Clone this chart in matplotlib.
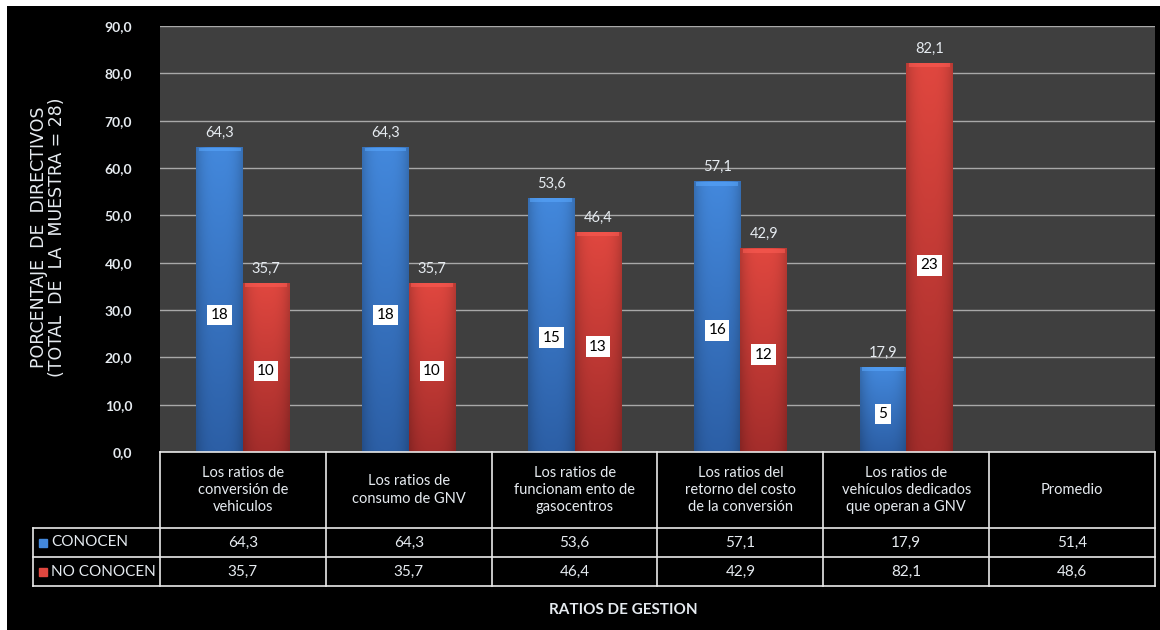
import numpy as np
import matplotlib
matplotlib.use("Agg")
import matplotlib.pyplot as plt
from matplotlib.patches import Rectangle
from matplotlib.colors import to_rgb

categorias = [
    "Los ratios de\nconversión de\nvehiculos",
    "Los ratios de\nconsumo de GNV",
    "Los ratios de\nfuncionam ento de\ngasocentros",
    "Los ratios del\nretorno del costo\nde la conversión",
    "Los ratios de\nvehículos dedicados\nque operan a GNV",
    "Promedio",
]
conocen = [64.3, 64.3, 53.6, 57.1, 17.9, 51.4]
no_conocen = [35.7, 35.7, 46.4, 42.9, 82.1, 48.6]
n_conocen = [18, 18, 15, 16, 5]
n_no_conocen = [10, 10, 13, 12, 23]
series = ["CONOCEN", "NO CONOCEN"]
yticks = [0, 10, 20, 30, 40, 50, 60, 70, 80, 90]

AZUL_TOP, AZUL_BOT = "#4388dc", "#2c5fa6"
ROJO_TOP, ROJO_BOT = "#e0473f", "#a42d2b"
TXT = "#e6ebf0"

plt.rcParams["font.family"] = ["Lato", "DejaVu Sans"]

fig = plt.figure(figsize=(11.6, 6.3), dpi=100, facecolor="black")
# margen blanco arriba e izquierda
fig.patches.append(Rectangle((0, 1 - 6 / 630), 1, 6 / 630, transform=fig.transFigure,
                             facecolor="white", edgecolor="none"))
fig.patches.append(Rectangle((0, 0), 7 / 1160, 1, transform=fig.transFigure,
                             facecolor="white", edgecolor="none"))

ax = fig.add_axes([160 / 1160, 178 / 630, 995 / 1160, 426 / 630])
ax.set_facecolor("#3f3f3f")
ax.set_yticks(yticks)
ax.set_yticklabels([f"{v:.1f}".replace(".", ",") for v in yticks],
                   color=TXT, fontsize=10, fontweight="bold")
ax.tick_params(axis="y", length=0, pad=20)
ax.tick_params(axis="x", length=0, labelbottom=False)
ax.grid(axis="y", color="#a8a8a8", linewidth=1)
ax.set_axisbelow(True)
for s in ax.spines.values():
    s.set_visible(False)


def barra_degradada(x0, ancho, alto, top, bot):
    # degradado vertical + sombreado lateral para dar volumen
    ny, nx = 64, 32
    v = np.linspace(0, 1, ny)[:, None]
    t = np.array(to_rgb(top)); b = np.array(to_rgb(bot))
    col = t[None, None, :] * (1 - v[..., None]) + b[None, None, :] * v[..., None]
    col = np.repeat(col, nx, axis=1)
    h = np.linspace(-1, 1, nx)
    sombra = 1.0 - 0.18 * np.abs(h) ** 3
    col = np.clip(col * sombra[None, :, None], 0, 1)
    ax.imshow(col, extent=(x0, x0 + ancho, 0, alto), aspect="auto",
              interpolation="bilinear", zorder=2)
    # borde superior biselado, suave
    cap = min(0.8, alto)
    ax.add_patch(Rectangle((x0 + ancho * 0.05, alto - cap), ancho * 0.90, cap,
                           facecolor=tuple(np.clip(t * 1.15 + 0.05, 0, 1)),
                           edgecolor="none", zorder=3, alpha=0.55))


w = 0.28
x = np.arange(len(n_conocen))
for i in x:
    for val, n, dx, top, bot, fr in [(conocen[i], n_conocen[i], -w, AZUL_TOP, AZUL_BOT, 0.45),
                                     (no_conocen[i], n_no_conocen[i], 0, ROJO_TOP, ROJO_BOT, 0.48)]:
        barra_degradada(i + dx, w, val, top, bot)
        ax.text(i + dx + w / 2, val + 1.6, f"{val:.1f}".replace(".", ","),
                ha="center", va="bottom", color=TXT, fontsize=10.5, zorder=4)
        ax.text(i + dx + w / 2, val * fr, str(n), ha="center", va="center",
                color="black", fontsize=11, zorder=5,
                bbox=dict(boxstyle="square,pad=0.22", facecolor="white", edgecolor="none"))
ax.set_xlim(-0.5, len(categorias) - 0.5)
ax.set_ylim(0, 90)

# tabla de datos bajo el eje
tr = ax.get_xaxis_transform()
alto_ax = 426.0
y_head = -76 / alto_ax
y_r1 = -105 / alto_ax
y_r2 = -134 / alto_ax
x_leg = -0.5 - 127 / 166
xr = len(categorias) - 0.5
lk = dict(color="#e8e8e8", linewidth=1.2, transform=tr, clip_on=False)
ax.plot([-0.5, xr], [0, 0], **lk)
ax.plot([x_leg, xr], [y_head, y_head], **lk)
ax.plot([x_leg, xr], [y_r1, y_r1], **lk)
ax.plot([x_leg, xr], [y_r2, y_r2], **lk)
ax.plot([x_leg, x_leg], [y_head, y_r2], **lk)
for k in range(len(categorias) + 1):
    ax.plot([k - 0.5, k - 0.5], [0, y_r2], **lk)

for i, cat in enumerate(categorias):
    ax.text(i, y_head / 2, cat, transform=tr, ha="center", va="center",
            color=TXT, fontsize=10.5, linespacing=1.3)
    ax.text(i, (y_head + y_r1) / 2, f"{conocen[i]:.1f}".replace(".", ","),
            transform=tr, ha="center", va="center", color=TXT, fontsize=11)
    ax.text(i, (y_r1 + y_r2) / 2, f"{no_conocen[i]:.1f}".replace(".", ","),
            transform=tr, ha="center", va="center", color=TXT, fontsize=11)

for (nombre, c), (y0, y1) in zip(zip(series, [AZUL_TOP, ROJO_TOP]),
                                 [(y_head, y_r1), (y_r1, y_r2)]):
    ym = (y0 + y1) / 2
    ax.plot([x_leg + 0.06], [ym], marker="s", markersize=6, color=c,
            transform=tr, clip_on=False)
    ax.text(x_leg + 0.11, ym, nombre, transform=tr, ha="left", va="center",
            color=TXT, fontsize=11)

fig.text(623 / 1160, 1 - 610 / 630, "RATIOS DE GESTION", ha="center", va="center",
         color=TXT, fontsize=11, fontweight="bold")
fig.text(48 / 1160, 1 - 237 / 630, "PORCENTAJE  DE  DIRECTIVOS\n(TOTAL  DE  LA  MUESTRA = 28)",
         rotation=90, ha="center", va="center", color=TXT, fontsize=12.5,
         family="DejaVu Sans", linespacing=1.05)

fig.savefig("out.png", dpi=100, facecolor=fig.get_facecolor())
